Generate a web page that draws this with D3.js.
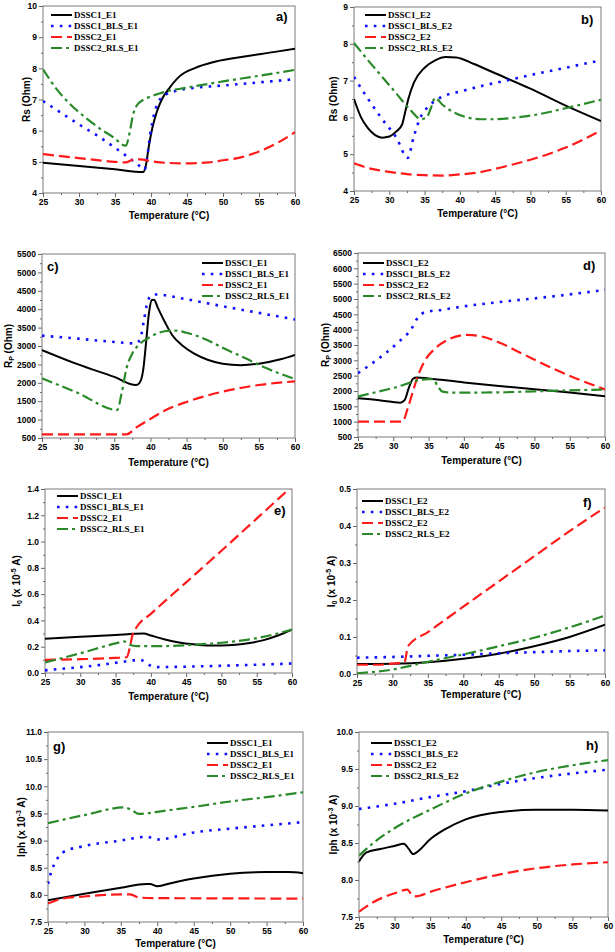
<!DOCTYPE html>
<html><head><meta charset="utf-8">
<script src="https://cdn.jsdelivr.net/npm/d3@7"></script>
<style>body{margin:0;background:#fff}</style>
</head><body>
<svg id="chart" width="615" height="952"></svg>
<script>
// ---------- tick labels ----------
const xTicks = [25,30,35,40,45,50,55,60];
const yTicksA = [4,5,6,7,8,9,10];
const yTicksB = [4,5,6,7,8,9];
const yTicksC = [500,1000,1500,2000,2500,3000,3500,4000,4500,5000,5500];
const yTicksD = [500,1000,1500,2000,2500,3000,3500,4000,4500,5000,5500,6000,6500];
const yTicksE = [0.0,0.2,0.4,0.6,0.8,1.0,1.2,1.4];
const yTicksF = [0.0,0.1,0.2,0.3,0.4,0.5];
const yTicksG = [7.5,8.0,8.5,9.0,9.5,10.0,10.5,11.0];
const yTicksH = [7.5,8.0,8.5,9.0,9.5,10.0];

const namesE1 = ["DSSC1_E1","DSSC1_BLS_E1","DSSC2_E1","DSSC2_RLS_E1"];
const namesE2 = ["DSSC1_E2","DSSC1_BLS_E2","DSSC2_E2","DSSC2_RLS_E2"];

// ---------- a) Rs, E1 ----------
const a_DSSC1 = [[25,4.97],[30,4.87],[35,4.76],[38.9,4.67],[39.3,4.9],[39.7,5.5],[40.2,6.1],[40.8,6.6],[41.5,7.0],[42.5,7.35],[44,7.75],[46,8.0],[49,8.22],[53,8.38],[57,8.52],[60,8.63]];
const a_BLS = [[25,6.95],[27,6.65],[30,6.2],[32.5,5.85],[35,5.45],[37,5.12],[38.5,4.85],[39.1,4.75],[39.5,5.2],[39.9,5.9],[40.4,6.5],[41,6.9],[42,7.15],[43.5,7.28],[46,7.37],[50,7.45],[55,7.55],[60,7.65]];
const a_DSSC2 = [[25,5.25],[30,5.12],[35,5.0],[36.5,4.98],[37.5,5.07],[38.5,5.08],[40,5.02],[42,4.97],[45,4.95],[48,4.98],[50,5.05],[52,5.12],[55,5.33],[57.5,5.6],[60,5.95]];
const a_RLS = [[25,7.97],[27,7.3],[29,6.8],[31,6.4],[33,6.05],[35,5.75],[36,5.55],[36.5,5.52],[37,5.9],[37.5,6.5],[38,6.8],[39,7.0],[40,7.1],[42,7.25],[45,7.38],[50,7.58],[55,7.76],[60,7.95]];

// ---------- b) Rs, E2 ----------
const b_DSSC1 = [[25,6.5],[26,6.0],[27,5.7],[28,5.52],[29,5.45],[30,5.48],[31,5.62],[31.8,5.8],[32.2,6.1],[32.7,6.5],[33.5,6.95],[35,7.35],[36.5,7.55],[38,7.64],[39.5,7.63],[42,7.45],[45,7.2],[50,6.78],[55,6.32],[60,5.9]];
const b_BLS = [[25,7.1],[27,6.5],[29,5.95],[31,5.45],[32.6,4.9],[33.5,5.5],[34.3,5.95],[35.3,6.25],[36.5,6.45],[38,6.6],[40,6.7],[43,6.85],[46.5,7.0],[50,7.15],[55,7.35],[60,7.55]];
const b_DSSC2 = [[25,4.75],[27.5,4.6],[30,4.52],[32.5,4.46],[35,4.43],[37.5,4.42],[40,4.45],[42.5,4.5],[45,4.6],[47.5,4.72],[50,4.85],[52.5,5.0],[55,5.18],[57.5,5.4],[60,5.65]];
const b_RLS = [[25,8.02],[27,7.55],[29,7.1],[31,6.65],[33,6.2],[34.5,5.95],[35.3,6.0],[35.8,6.2],[36.5,6.53],[37.5,6.35],[39,6.15],[41,6.0],[43,5.95],[45,5.95],[48,6.0],[51,6.08],[55,6.25],[60,6.48]];

// ---------- c) Rp, E1 ----------
const c_DSSC1 = [[25,2890],[30,2500],[35,2160],[38,1940],[38.5,2000],[39,2350],[39.4,3100],[39.8,3900],[40.2,4250],[40.5,4260],[41,4050],[42,3650],[43,3300],[44.5,3000],[46,2800],[48,2620],[50,2520],[52.5,2480],[55,2520],[58,2640],[60,2760]];
const c_BLS = [[25,3280],[30,3200],[35,3110],[38,3070],[38.6,3200],[39.1,3700],[39.6,4200],[40.2,4380],[40.7,4400],[45,4270],[50,4080],[55,3900],[60,3720]];
const c_DSSC2 = [[25,600],[36.7,600],[38,780],[40,1020],[42,1250],[45,1480],[50,1760],[55,1940],[60,2040]];
const c_RLS = [[25,2120],[30,1720],[35.4,1260],[36,1700],[36.7,2400],[37.5,2800],[38.5,3050],[40,3250],[42,3400],[43.5,3420],[45,3360],[48,3150],[50,2950],[53,2680],[56,2400],[60,2100]];

// ---------- d) Rp, E2 ----------
const d_DSSC1 = [[25,1760],[28,1700],[31,1620],[31.6,1700],[32.2,2100],[32.8,2400],[33.3,2440],[35,2410],[40,2280],[45,2160],[50,2060],[55,1950],[60,1830]];
const d_BLS = [[25,2580],[27,2900],[29,3250],[31,3650],[32.5,4000],[33.5,4400],[34.5,4570],[37,4650],[40,4760],[45,4900],[50,5020],[55,5150],[60,5300]];
const d_DSSC2 = [[25,1000],[31.3,1000],[32,1400],[32.8,2000],[33.5,2500],[34.5,3000],[36,3400],[38,3700],[40.5,3830],[42.5,3780],[45,3580],[48,3250],[52,2800],[56,2400],[60,2050]];
const d_RLS = [[25,1820],[30,2100],[35,2390],[35.7,2380],[36.3,2150],[37,1980],[38,1950],[42,1950],[46,1960],[50,1990],[55,2020],[60,2050]];

// ---------- e) I0, E1 ----------
const e_DSSC1 = [[25,0.26],[30,0.275],[35,0.29],[39,0.30],[40,0.285],[42,0.255],[44,0.232],[46,0.218],[48,0.21],[50,0.21],[52,0.215],[54,0.228],[56,0.25],[58,0.285],[60,0.33]];
const e_BLS = [[25,0.02],[28,0.035],[31,0.05],[34,0.07],[36,0.085],[38.5,0.10],[39.5,0.07],[40.5,0.045],[45,0.048],[50,0.055],[55,0.063],[60,0.072]];
const e_DSSC2 = [[25,0.10],[30,0.105],[35,0.115],[36.6,0.12],[37,0.19],[37.4,0.29],[38,0.35],[40,0.45],[45,0.69],[50,0.93],[55,1.175],[60,1.42]];
const e_RLS = [[25,0.08],[30,0.15],[35,0.225],[36.2,0.24],[37,0.215],[38,0.205],[42,0.205],[46,0.215],[50,0.23],[55,0.265],[60,0.33]];

// ---------- f) I0, E2 ----------
const f_DSSC1 = [[25,0.027],[30,0.028],[35,0.032],[40,0.041],[45,0.055],[50,0.075],[55,0.1],[60,0.133]];
const f_BLS = [[25,0.044],[30,0.046],[35,0.049],[40,0.052],[45,0.056],[50,0.059],[55,0.062],[60,0.064]];
const f_DSSC2 = [[25,0.025],[28,0.025],[30,0.028],[31.7,0.032],[32.2,0.075],[35,0.113],[40,0.182],[45,0.25],[50,0.318],[55,0.386],[60,0.45]];
const f_RLS = [[25,0.002],[30,0.012],[35,0.033],[40,0.053],[45,0.075],[50,0.098],[55,0.126],[60,0.158]];

// ---------- g) Iph, E1 ----------
const g_DSSC1 = [[25,7.9],[30,8.02],[35,8.13],[38.5,8.2],[39,8.2],[40,8.16],[42,8.22],[45,8.3],[50,8.39],[55,8.42],[58,8.42],[60,8.40]];
const g_BLS = [[25,8.2],[25.5,8.45],[26,8.6],[27,8.78],[30,8.9],[35,9.0],[38.5,9.07],[40,9.02],[45,9.15],[50,9.22],[55,9.28],[60,9.34]];
const g_DSSC2 = [[25,7.84],[27,7.93],[30,7.97],[35,8.01],[36.3,8.01],[37.5,7.95],[40,7.94],[50,7.935],[60,7.93]];
const g_RLS = [[25,9.32],[30,9.47],[35.5,9.61],[36.5,9.56],[37.5,9.49],[38.5,9.5],[40,9.53],[45,9.62],[50,9.72],[55,9.8],[60,9.89]];

// ---------- h) Iph, E2 ----------
const h_DSSC1 = [[25,8.25],[26,8.37],[28,8.42],[30,8.46],[31.3,8.49],[32,8.42],[32.6,8.35],[33.2,8.38],[35,8.55],[37,8.68],[40,8.82],[45,8.92],[50,8.95],[55,8.95],[60,8.94]];
const h_BLS = [[25,8.96],[30,9.03],[35,9.12],[40,9.2],[45,9.3],[50,9.38],[55,9.44],[60,9.49]];
const h_DSSC2 = [[25,7.57],[27,7.7],[30,7.82],[31.8,7.87],[32.5,7.79],[33,7.78],[35,7.84],[40,7.97],[45,8.08],[50,8.16],[55,8.21],[60,8.24]];
const h_RLS = [[25,8.33],[27,8.5],[30,8.7],[35,8.95],[40,9.17],[45,9.33],[50,9.46],[55,9.55],[60,9.62]];

// ---------- styles ----------
const seriesStyle = [
  {color:"#000000", width:2,   dash:null},
  {color:"#1010ff", width:2.6, dash:"2.6,6.2"},
  {color:"#ff1a1a", width:2.2, dash:"11,5"},
  {color:"#2a8a2a", width:2.2, dash:"11,4,3,4"}
];

// ---------- layout ----------
const panels = [
  {box:[43,6,295,193], yd:[4,10], yt:yTicksA, fmt:"d", data:[a_DSSC1,a_BLS,a_DSSC2,a_RLS], names:namesE1,
   leg:[51,15], lab:[276,21,"a)"], ytitle:"Rs", ytx:26, xty:215},
  {box:[354,7,601,191], yd:[4,9], yt:yTicksB, fmt:"d", data:[b_DSSC1,b_BLS,b_DSSC2,b_RLS], names:namesE2,
   leg:[365,15], lab:[581,24,"b)"], ytitle:"Rs", ytx:333, xty:213},
  {box:[42,254,295,438], yd:[500,5500], yt:yTicksC, fmt:"d", data:[c_DSSC1,c_BLS,c_DSSC2,c_RLS], names:namesE1,
   leg:[202,263], lab:[47,271,"c)"], ytitle:"Rp", ytx:8, xty:462},
  {box:[358,253,605,437], yd:[500,6500], yt:yTicksD, fmt:"d", data:[d_DSSC1,d_BLS,d_DSSC2,d_RLS], names:namesE2,
   leg:[363,263], lab:[583,270,"d)"], ytitle:"Rp", ytx:325, xty:460},
  {box:[45,489,292,673], yd:[0,1.4], yt:yTicksE, fmt:".1f", data:[e_DSSC1,e_BLS,e_DSSC2,e_RLS], names:namesE1,
   leg:[57,496], lab:[274,515,"e)"], ytitle:"I0_5", ytx:16, xty:696},
  {box:[357,489,605,674], yd:[0,0.5], yt:yTicksF, fmt:".1f", data:[f_DSSC1,f_BLS,f_DSSC2,f_RLS], names:namesE2,
   leg:[362,501], lab:[583,507,"f)"], ytitle:"I0_5", ytx:331, xty:694},
  {box:[48,732,303,922], yd:[7.5,11], yt:yTicksG, fmt:".1f", data:[g_DSSC1,g_BLS,g_DSSC2,g_RLS], names:namesE1,
   leg:[207,743], lab:[53,751,"g)"], ytitle:"Iph", ytx:21, xty:943},
  {box:[359,732,608,917], yd:[7.5,10], yt:yTicksH, fmt:".1f", data:[h_DSSC1,h_BLS,h_DSSC2,h_RLS], names:namesE2,
   leg:[371,743], lab:[586,750,"h)"], ytitle:"Iph", ytx:333, xty:939}
];

const svg = d3.select("#chart");
svg.append("rect").attr("width",615).attr("height",952).attr("fill","#fff");
const SANS = "'Liberation Sans', Arial, sans-serif";
const SERIF = "'Liberation Serif', 'Times New Roman', serif";
const defs = svg.append("defs");

function midpoints(arr){ const m=[]; for(let i=0;i<arr.length-1;i++) m.push((arr[i]+arr[i+1])/2); return m; }

panels.forEach((p,pi)=>{
  const [L,T,R,B] = p.box;
  const x = d3.scaleLinear().domain([25,60]).range([L,R]);
  const y = d3.scaleLinear().domain(p.yd).range([B,T]);
  const g = svg.append("g");

  defs.append("clipPath").attr("id","clip"+pi).append("rect")
    .attr("x",L).attr("y",T).attr("width",R-L).attr("height",B-T);

  const styleAxis = sel => {
    sel.select(".domain").remove();
    sel.selectAll(".tick line").attr("stroke","#666").attr("stroke-width",1);
    sel.selectAll(".tick text").attr("fill","#000").attr("font-family",SANS)
       .attr("font-weight","bold").attr("font-size",8.5);
  };
  g.append("g").attr("transform",`translate(0,${B})`)
    .call(d3.axisBottom(x).tickValues(xTicks).tickSize(4).tickPadding(2).tickFormat(d3.format("d")))
    .call(styleAxis);
  g.append("g").attr("transform",`translate(0,${B})`)
    .call(d3.axisBottom(x).tickValues(midpoints(xTicks)).tickSize(2).tickFormat(""))
    .call(styleAxis);
  g.append("g").attr("transform",`translate(${L},0)`)
    .call(d3.axisLeft(y).tickValues(p.yt).tickSize(4).tickPadding(2).tickFormat(d3.format(p.fmt)))
    .call(styleAxis);
  g.append("g").attr("transform",`translate(${L},0)`)
    .call(d3.axisLeft(y).tickValues(midpoints(p.yt)).tickSize(2).tickFormat(""))
    .call(styleAxis);

  g.append("rect").attr("x",L).attr("y",T).attr("width",R-L).attr("height",B-T)
    .attr("fill","none").attr("stroke","#7a7a7a").attr("stroke-width",1);

  const line = d3.line().x(d=>x(d[0])).y(d=>y(d[1])).curve(d3.curveMonotoneX);
  const lg = g.append("g").attr("clip-path",`url(#clip${pi})`);
  p.data.forEach((ser,si)=>{
    const st = seriesStyle[si];
    lg.append("path").attr("d",line(ser)).attr("fill","none")
      .attr("stroke",st.color).attr("stroke-width",st.width)
      .attr("stroke-dasharray",st.dash);
  });

  p.names.forEach((nm,si)=>{
    const st = seriesStyle[si];
    const ly = p.leg[1] + si*11;
    g.append("line").attr("x1",p.leg[0]).attr("x2",p.leg[0]+21).attr("y1",ly).attr("y2",ly)
      .attr("stroke",st.color).attr("stroke-width",st.width).attr("stroke-dasharray",st.dash);
    g.append("text").attr("x",p.leg[0]+23).attr("y",ly).attr("dy","0.35em")
      .attr("font-family",SERIF).attr("font-weight","bold").attr("font-size",9).text(nm);
  });

  g.append("text").attr("x",p.lab[0]).attr("y",p.lab[1]).attr("font-family",SANS)
    .attr("font-weight","bold").attr("font-size",13).text(p.lab[2]);

  g.append("text").attr("x",(L+R)/2).attr("y",p.xty).attr("dy","0.35em").attr("text-anchor","middle")
    .attr("font-family",SANS).attr("font-weight","bold").attr("font-size",10).text("Temperature (°C)");

  const yt = g.append("text").attr("transform",`translate(${p.ytx},${(T+B)/2}) rotate(-90)`)
    .attr("text-anchor","middle").attr("dy","0.35em")
    .attr("font-family",SANS).attr("font-weight","bold").attr("font-size",10);
  if(p.ytitle==="Rs"){
    yt.text("Rs (Ohm)");
  } else if(p.ytitle==="Rp"){
    yt.append("tspan").text("R");
    yt.append("tspan").attr("font-size",7).attr("dy",2.5).text("P");
    yt.append("tspan").attr("dy",-2.5).text(" (Ohm)");
  } else if(p.ytitle==="I0_5"){
    yt.append("tspan").text("I");
    yt.append("tspan").attr("font-size",7).attr("dy",2.5).text("0");
    yt.append("tspan").attr("dy",-2.5).text(" (x 10");
    yt.append("tspan").attr("font-size",7).attr("dy",-4).text("-5");
    yt.append("tspan").attr("dy",4).text(" A)");
  } else {
    yt.append("tspan").text("Iph (x 10");
    yt.append("tspan").attr("font-size",7).attr("dy",-4).text("-3");
    yt.append("tspan").attr("dy",4).text(" A)");
  }
});
</script>
</body></html>
